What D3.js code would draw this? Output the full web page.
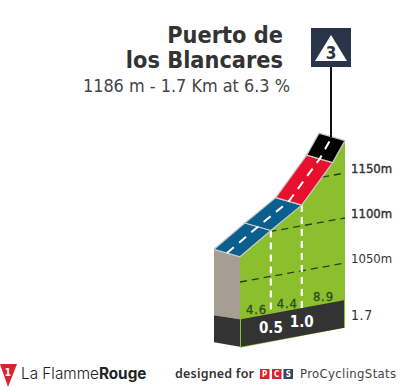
<!DOCTYPE html>
<html>
<head>
<meta charset="utf-8">
<script src="https://cdnjs.cloudflare.com/ajax/libs/d3/7.8.5/d3.min.js"></script>
<style>
  html, body { margin: 0; padding: 0; background: #fff; }
  svg { display: block; }
  text { font-family: "DejaVu Sans Condensed", "DejaVu Sans", sans-serif; font-stretch: condensed; }
</style>
</head>
<body>
<script>
const kms = [0, 0.5, 1.0, 1.5, 1.7];
const elevations = [1078, 1101, 1123, 1164, 1186];
const segmentColors = ['#0b5f8f', '#0b5f8f', '#e8112d', '#000000'];
const splitKms = [0.5, 1.0];
const splitLabels = ['0.5', '1.0'];
const gradients = ['4.6', '4.4', '8.9'];
const gradientKms = [0.25, 0.75, 1.35];
const elevationTicks = [1050, 1100, 1150];
const totalLabel = '1.7';
const titleLines = ['Puerto de', 'los Blancares'];
const subtitle = '1186 m - 1.7 Km at 6.3 %';
const category = '3';

const WIDTH = 405;
const HEIGHT = 390;
const DEPTH = { x: -26, y: -7.5 };
const GREEN = '#8bbf2e';
const DARK = '#333333';

const svg = d3.select('body').append('svg')
  .attr('width', WIDTH)
  .attr('height', HEIGHT);

const x = d3.scaleLinear().domain([0, 1.7]).range([240, 345]);
const y = d3.scaleLinear().domain([1000, 1200]).range([327, 147]);
const tilt = d3.scaleLinear().domain([0, 1.7]).range([0, -19]);
const kmAtElevation = d3.scaleLinear().domain(elevations).range(kms).clamp(true);

// near edge of the road in screen space, with the whole profile tilted
const project = (km, elevation) => [x(km), y(elevation) + tilt(km)];
const far = ([px, py]) => [px + DEPTH.x, py + DEPTH.y];
const line = d3.line();

const roadNear = kms.map((km, i) => project(km, elevations[i]));
const roadFar = roadNear.map(far);
const roadMid = roadNear.map(p => [p[0] + DEPTH.x / 2, p[1] + DEPTH.y / 2]);

const baseTop = km => y(1008.5) + tilt(km);
const baseBottom = km => y(978) + tilt(km);

// green front wall, it also shows as a thin rim round the band
svg.append('path')
  .attr('d', line([...roadNear, [x(1.7), baseBottom(1.7)], [x(0), baseBottom(0) + 1]]) + 'Z')
  .attr('fill', GREEN);

// left side wall
svg.append('path')
  .attr('d', line([roadFar[0], roadNear[0], [x(0), baseTop(0)], [x(0) + DEPTH.x, baseTop(0) - 4]]) + 'Z')
  .attr('fill', '#a79e92');
svg.append('path')
  .attr('d', line([[x(0) + DEPTH.x, baseTop(0) - 4], [x(0), baseTop(0)], [x(0), baseBottom(0)], [x(0) + DEPTH.x, baseBottom(0) - 4.5]]) + 'Z')
  .attr('fill', DARK);

// distance band
svg.append('path')
  .attr('d', line([[x(0) + 1, baseTop(0)], [x(1.7) - 1, baseTop(1.7)], [x(1.7) - 1, baseBottom(1.7)], [x(0) + 1, baseBottom(0)]]) + 'Z')
  .attr('fill', DARK);

// elevation guides
svg.append('g').selectAll('path')
  .data(elevationTicks)
  .join('path')
  .attr('d', d => line([project(kmAtElevation(d), d), project(1.7, d)]))
  .attr('fill', 'none')
  .attr('stroke', '#24401a')
  .attr('stroke-width', 1.3)
  .attr('stroke-dasharray', '7 5');

svg.append('g').selectAll('text')
  .data(elevationTicks)
  .join('text')
  .attr('x', 351)
  .attr('y', d => y(d) + tilt(1.7))
  .attr('font-size', 13)
  .attr('fill', '#333')
  .attr('stroke', '#333')
  .attr('stroke-width', d => d > 1050 ? 0.4 : 0)
  .text(d => d + 'm');

// split markers
svg.append('g').selectAll('path')
  .data(splitKms)
  .join('path')
  .attr('d', d => {
    const top = project(d, elevations[kms.indexOf(d)]);
    return line([top, [x(d), baseTop(d)]]);
  })
  .attr('stroke', '#fff')
  .attr('stroke-width', 2.2)
  .attr('stroke-dasharray', '7 5');

// road segments
svg.append('g').selectAll('path')
  .data(segmentColors)
  .join('path')
  .attr('d', (d, i) => line([roadFar[i], roadFar[i + 1], roadNear[i + 1], roadNear[i]]) + 'Z')
  .attr('fill', d => d)
  .attr('stroke', '#c9c9c9')
  .attr('stroke-width', 1.2)
  .attr('stroke-linejoin', 'round');

svg.append('path')
  .attr('d', line(roadMid))
  .attr('fill', 'none')
  .attr('stroke', '#fff')
  .attr('stroke-width', 2)
  .attr('stroke-dasharray', '9 7');

// gradients above the band
svg.append('g').selectAll('text')
  .data(gradients)
  .join('text')
  .attr('x', (d, i) => x(gradientKms[i]) + (i === 2 ? 0 : 1))
  .attr('y', (d, i) => baseTop(gradientKms[i]) - 3)
  .attr('text-anchor', 'middle')
  .attr('font-size', 13)
  .attr('letter-spacing', 0.8)
  .attr('fill', '#2f4a1c')
  .attr('stroke', '#2f4a1c')
  .attr('stroke-width', 0.3)
  .text(d => d);

// split distances in the band
svg.append('g').selectAll('text')
  .data(splitLabels)
  .join('text')
  .attr('x', (d, i) => x(splitKms[i]))
  .attr('y', (d, i) => baseTop(splitKms[i]) + 19)
  .attr('text-anchor', 'middle')
  .attr('font-size', 15)
  .attr('font-weight', 700)
  .attr('fill', '#fff')
  .text(d => d);

svg.append('text')
  .attr('x', 351)
  .attr('y', 320)
  .attr('font-size', 14)
  .attr('letter-spacing', 0.6)
  .attr('fill', '#333')
  .text(totalLabel);

// title block
svg.append('g').selectAll('text')
  .data(titleLines)
  .join('text')
  .attr('x', 283)
  .attr('y', (d, i) => 43 + i * 24.5)
  .attr('text-anchor', 'end')
  .attr('font-size', 23.3)
  .attr('font-weight', 700)
  .attr('fill', '#333')
  .text(d => d);

svg.append('text')
  .attr('x', 290)
  .attr('y', 92)
  .attr('text-anchor', 'end')
  .attr('font-size', 17.9)
  .attr('fill', '#444')
  .text(subtitle);

// climb category badge and pole
svg.append('line')
  .attr('x1', 331).attr('x2', 331)
  .attr('y1', 67).attr('y2', 137)
  .attr('stroke', '#111')
  .attr('stroke-width', 2);
svg.append('rect')
  .attr('x', 311).attr('y', 28)
  .attr('width', 40).attr('height', 39)
  .attr('fill', '#2b3549');
svg.append('path')
  .attr('d', 'M331,35L347,61L315,61Z')
  .attr('fill', '#fff');
svg.append('text')
  .attr('x', 331).attr('y', 59)
  .attr('text-anchor', 'middle')
  .attr('font-size', 17)
  .attr('font-weight', 700)
  .attr('fill', '#2b3549')
  .text(category);

// footer
svg.append('path')
  .attr('d', 'M0,364L17,364L8,387Z')
  .attr('fill', '#d9232e');
svg.append('text')
  .attr('x', 8).attr('y', 376)
  .attr('text-anchor', 'middle')
  .attr('font-size', 10)
  .attr('font-weight', 700)
  .attr('fill', '#fff')
  .text('1');

const brand = svg.append('text')
  .attr('x', 21).attr('y', 379)
  .attr('font-size', 15.3)
  .attr('fill', '#222')
  .style('font-family', 'Inter, sans-serif')
  .style('font-stretch', 'normal');
brand.append('tspan').attr('font-weight', 300).text('La Flamme');
brand.append('tspan').attr('font-weight', 700).text('Rouge');

svg.append('text')
  .attr('x', 175).attr('y', 378)
  .attr('font-size', 12.5)
  .attr('font-weight', 600)
  .attr('letter-spacing', 0.2)
  .attr('fill', '#333')
  .style('font-family', '"Noto Sans", sans-serif')
  .style('font-stretch', 'normal')
  .text('designed for');

const pcs = svg.append('g').selectAll('g')
  .data([['P', '#d9232e', 260], ['C', '#d9232e', 272], ['S', '#33475b', 283.5]])
  .join('g');
pcs.append('rect')
  .attr('x', d => d[2]).attr('y', 369)
  .attr('width', 9.5).attr('height', 10)
  .attr('fill', d => d[1]);
pcs.append('text')
  .attr('x', d => d[2] + 4.75).attr('y', 377)
  .attr('text-anchor', 'middle')
  .attr('font-size', 8)
  .attr('font-weight', 700)
  .attr('fill', '#fff')
  .text(d => d[0]);

svg.append('text')
  .attr('x', 300).attr('y', 378)
  .attr('font-size', 13)
  .attr('letter-spacing', 0.35)
  .attr('fill', '#444')
  .text('ProCyclingStats');
</script>
</body>
</html>
